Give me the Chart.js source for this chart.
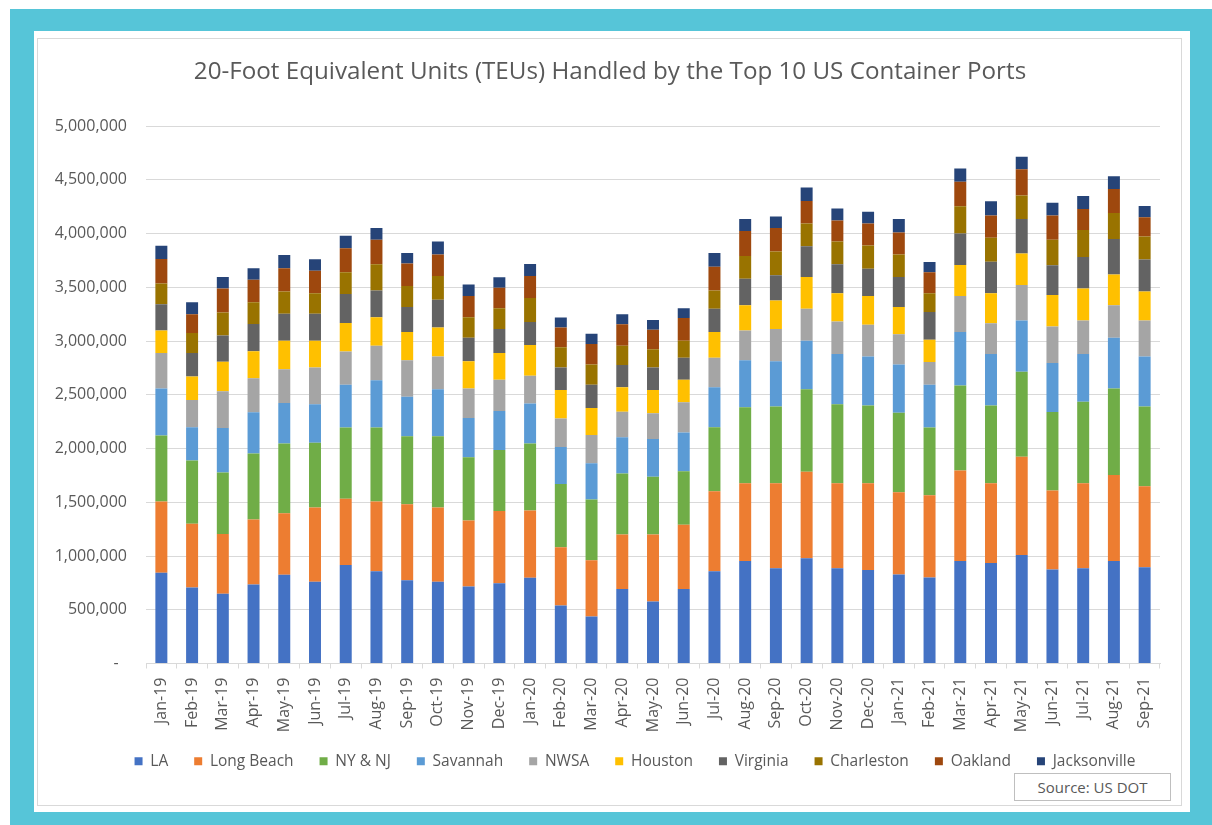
<!DOCTYPE html>
<html>
<head>
<meta charset="utf-8">
<script src="https://cdn.jsdelivr.net/npm/chart.js@4"></script>
<style>
  body { margin: 0; background: #fff; width: 1212px; height: 825px; overflow: hidden; position: relative; font-family: "Open Sans", sans-serif; }
  #frame { position: absolute; left: 10px; top: 9px; width: 1202px; height: 816px; background: #56c5d8; }
  #panel { position: absolute; left: 34px; top: 31px; width: 1156px; height: 781px; background: #fff; }
  #inner { position: absolute; left: 37px; top: 38px; width: 1145px; height: 768px; border: 1px solid #d9d9d9; box-sizing: border-box; }
  #chart { position: absolute; left: 38px; top: 39px; }
  #source { position: absolute; left: 1014px; top: 773px; width: 157px; height: 28px; border: 1px solid #bfbfbf;
            box-sizing: border-box; color: #595959; font-size: 15px; line-height: 26px; text-align: center; background: #fff; }
</style>
</head>
<body>
<div id="frame"></div>
<div id="panel"></div>
<div id="inner"></div>
<canvas id="chart" width="1144" height="767"></canvas>
<div id="source">Source: US DOT</div>
<script>
const months = ['Jan-19', 'Feb-19', 'Mar-19', 'Apr-19', 'May-19', 'Jun-19', 'Jul-19', 'Aug-19', 'Sep-19', 'Oct-19', 'Nov-19', 'Dec-19',
    'Jan-20', 'Feb-20', 'Mar-20', 'Apr-20', 'May-20', 'Jun-20', 'Jul-20', 'Aug-20', 'Sep-20', 'Oct-20', 'Nov-20', 'Dec-20',
    'Jan-21', 'Feb-21', 'Mar-21', 'Apr-21', 'May-21', 'Jun-21', 'Jul-21', 'Aug-21', 'Sep-21'];

// TEUs per port per month
const la = [845000, 707000, 650000, 734000, 825000, 761000, 916000, 859000, 774000, 761000, 717000, 747000,
    798000, 539000, 438000, 694000, 576000, 694000, 859000, 953000, 886000, 980000, 886000, 869000,
    828000, 801000, 953000, 936000, 1010000, 875000, 886000, 953000, 896000];
const longBeach = [663000, 593000, 555000, 606000, 572000, 690000, 616000, 649000, 707000, 690000, 613000, 671000,
    626000, 542000, 522000, 505000, 623000, 596000, 744000, 724000, 791000, 805000, 791000, 808000,
    765000, 765000, 842000, 741000, 913000, 734000, 791000, 801000, 754000];
const nyNj = [613000, 589000, 573000, 613000, 650000, 603000, 663000, 687000, 633000, 663000, 589000, 569000,
    623000, 589000, 565000, 569000, 538000, 498000, 596000, 707000, 714000, 767000, 734000, 724000,
    740000, 629000, 791000, 724000, 791000, 731000, 757000, 805000, 741000];
const savannah = [438000, 310000, 414000, 384000, 377000, 357000, 398000, 441000, 367000, 438000, 364000, 363000,
    371000, 343000, 337000, 336000, 351000, 360000, 370000, 438000, 420000, 451000, 468000, 454000,
    448000, 398000, 498000, 478000, 478000, 455000, 445000, 471000, 464000];
const nwsa = [330000, 252000, 340000, 316000, 313000, 343000, 309000, 320000, 341000, 303000, 276000, 290000,
    259000, 266000, 263000, 239000, 239000, 283000, 276000, 276000, 300000, 297000, 303000, 297000,
    283000, 212000, 334000, 286000, 330000, 340000, 313000, 303000, 337000];
const houston = [209000, 219000, 276000, 253000, 266000, 249000, 266000, 266000, 262000, 270000, 252000, 249000,
    286000, 266000, 252000, 226000, 218000, 209000, 239000, 235000, 266000, 296000, 262000, 266000,
    252000, 208000, 289000, 279000, 293000, 293000, 296000, 287000, 269000];
const virginia = [245000, 219000, 243000, 252000, 250000, 250000, 270000, 249000, 232000, 259000, 219000, 222000,
    215000, 209000, 216000, 209000, 209000, 205000, 216000, 246000, 236000, 286000, 270000, 255000,
    280000, 256000, 293000, 293000, 320000, 276000, 293000, 329000, 297000];
const charleston = [192000, 185000, 215000, 202000, 208000, 191000, 202000, 243000, 196000, 222000, 192000, 195000,
    223000, 189000, 188000, 178000, 169000, 158000, 171000, 212000, 219000, 212000, 212000, 216000,
    209000, 175000, 253000, 223000, 219000, 239000, 253000, 243000, 215000];
const oakland = [229000, 175000, 222000, 209000, 216000, 209000, 222000, 229000, 209000, 199000, 196000, 189000,
    205000, 182000, 192000, 199000, 181000, 212000, 219000, 233000, 219000, 209000, 195000, 205000,
    205000, 196000, 228000, 208000, 245000, 225000, 195000, 222000, 179000];
const jacksonville = [122000, 111000, 108000, 108000, 124000, 108000, 118000, 108000, 97000, 121000, 107000, 98000,
    111000, 94000, 94000, 94000, 91000, 91000, 128000, 111000, 107000, 125000, 111000, 108000,
    125000, 94000, 125000, 132000, 115000, 118000, 121000, 118000, 104000];

const yTicks = [0, 500000, 1000000, 1500000, 2000000, 2500000, 3000000, 3500000, 4000000, 4500000, 5000000];

const ports = [
    { label: 'LA', data: la, color: '#4472c4' },
    { label: 'Long Beach', data: longBeach, color: '#ed7d31' },
    { label: 'NY & NJ', data: nyNj, color: '#70ad47' },
    { label: 'Savannah', data: savannah, color: '#5b9bd5' },
    { label: 'NWSA', data: nwsa, color: '#a5a5a5' },
    { label: 'Houston', data: houston, color: '#ffc000' },
    { label: 'Virginia', data: virginia, color: '#636363' },
    { label: 'Charleston', data: charleston, color: '#997300' },
    { label: 'Oakland', data: oakland, color: '#9e480e' },
    { label: 'Jacksonville', data: jacksonville, color: '#264478' }
];

const textColor = '#595959';
const gridColor = '#d9d9d9';
const fontFamily = '"Open Sans", sans-serif';

// title and legend are centred a bit right of the plot in the original,
// and the legend tucks up under the month labels
const boxShift = {
    id: 'boxShift',
    afterLayout(chart) {
        chart.titleBlock.left += 11;
        chart.titleBlock.right += 11;
        chart.legend.left += 36;
        chart.legend.right += 36;
        chart.legend.top -= 8;
        chart.legend.bottom -= 8;
    }
};

new Chart(document.getElementById('chart').getContext('2d'), {
    type: 'bar',
    data: {
        labels: months,
        datasets: ports.map(p => ({
            label: p.label,
            data: p.data,
            backgroundColor: p.color,
            borderWidth: 0,
            categoryPercentage: 1,
            barPercentage: 0.39
        }))
    },
    options: {
        responsive: false,
        animation: false,
        devicePixelRatio: 1,
        layout: { padding: { left: 0, right: 22, top: 0, bottom: 19 } },
        scales: {
            x: {
                stacked: true,
                afterFit: scale => { scale.height = 72; },
                grid: { drawOnChartArea: false, tickLength: 5, color: gridColor },
                border: { color: gridColor },
                ticks: {
                    autoSkip: false, maxRotation: 90, minRotation: 90, padding: 9,
                    color: textColor, font: { family: fontFamily, size: 16 }
                }
            },
            y: {
                stacked: true,
                min: 0,
                max: 5000000,
                afterFit: scale => { scale.width = 108; },
                afterBuildTicks: scale => { scale.ticks = yTicks.map(v => ({ value: v })); },
                grid: { color: gridColor, drawTicks: false },
                border: { display: false },
                ticks: {
                    padding: 19,
                    color: textColor,
                    font: { family: fontFamily, size: 16 },
                    callback: v => v === 0 ? '-  ' : v.toLocaleString('en-US')
                }
            }
        },
        plugins: {
            title: {
                display: true,
                text: '20-Foot Equivalent Units (TEUs) Handled by the Top 10 US Container Ports',
                color: textColor,
                font: { family: fontFamily, size: 24.2, weight: 'normal' },
                padding: { top: 19, bottom: 39 }
            },
            legend: {
                position: 'bottom',
                labels: {
                    boxWidth: 8, boxHeight: 8, padding: 26,
                    color: textColor,
                    font: { family: fontFamily, size: 15.5 }
                }
            },
            tooltip: { enabled: false }
        }
    },
    plugins: [boxShift]
});
</script>
</body>
</html>
